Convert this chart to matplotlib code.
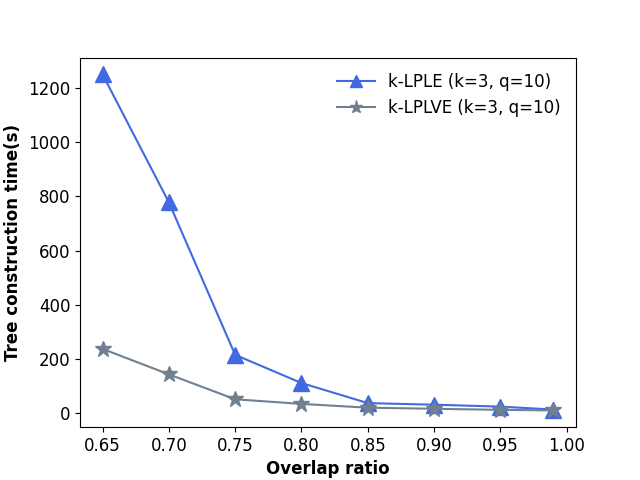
import matplotlib
matplotlib.use("Agg")
import matplotlib.pyplot as plt

overlap = [0.65, 0.70, 0.75, 0.80, 0.85, 0.90, 0.95, 0.99]
lple_time = [1250, 778, 215, 111, 37, 31, 24, 13]
lplve_time = [237, 143, 51, 34, 20, 16, 12, 10]

fig, ax = plt.subplots(figsize=(6.4, 4.8), dpi=100)
ax.plot(overlap, lple_time, color='royalblue', marker='^', markersize=11,
        label='k-LPLE (k=3, q=10)')
ax.plot(overlap, lplve_time, color='slategray', marker='*', markersize=12,
        label='k-LPLVE (k=3, q=10)')

ax.set_xticks([0.65, 0.70, 0.75, 0.80, 0.85, 0.90, 0.95, 1.00])
ax.tick_params(labelsize=12)
ax.set_xlabel('Overlap ratio', fontsize=12, fontweight='bold')
ax.set_ylabel('Tree construction time(s)', fontsize=12, fontweight='bold')
ax.legend(frameon=False, fontsize=12, markerscale=0.8, handlelength=2.3)

fig.savefig('out.png')
